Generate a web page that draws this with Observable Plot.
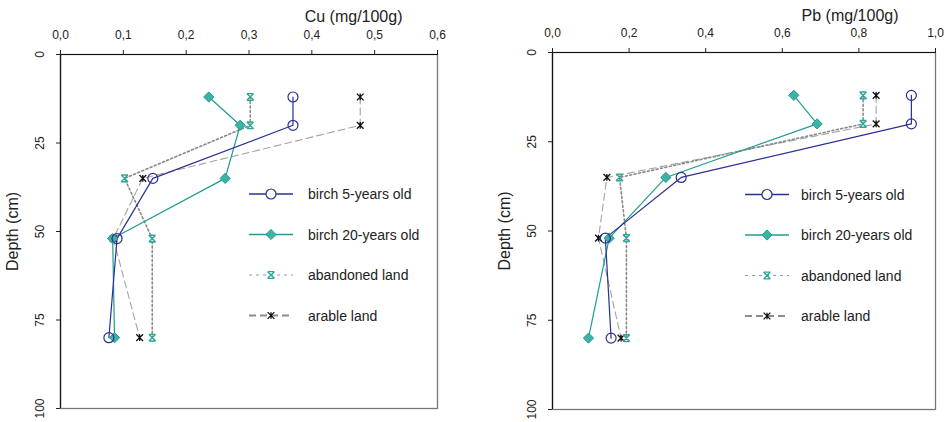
<!DOCTYPE html>
<html><head><meta charset="utf-8">
<script src="https://cdn.jsdelivr.net/npm/d3@7"></script>
<script src="https://cdn.jsdelivr.net/npm/@observablehq/plot@0.6"></script>
<style>
html,body{margin:0;padding:0;background:#fff;}
#wrap{position:relative;width:949px;height:422px;font-family:"Liberation Sans",Arial,sans-serif;overflow:hidden;}
.panel{position:absolute;top:0;}
#legend{position:absolute;left:0;top:0;}
</style></head><body><div id="wrap"></div>
<script>
// ---- data ----
const depths = [12, 20, 35, 52, 80];
const seriesNames = ["birch 5-years old", "birch 20-years old", "abandoned land", "arable land"];
const cuBirch5    = [0.370, 0.370, 0.147, 0.090, 0.077];
const cuBirch20   = [0.236, 0.286, 0.262, 0.083, 0.086];
const cuAbandoned = [0.302, 0.302, 0.102, 0.146, 0.146];
const cuArable    = [0.477, 0.477, 0.131, 0.084, 0.126];
const pbBirch5    = [0.937, 0.937, 0.336, 0.138, 0.153];
const pbBirch20   = [0.630, 0.691, 0.296, 0.148, 0.094];
const pbAbandoned = [0.811, 0.811, 0.175, 0.193, 0.193];
const pbArable    = [0.845, 0.845, 0.142, 0.120, 0.179];
const cuTicks = [0, 0.1, 0.2, 0.3, 0.4, 0.5, 0.6];
const pbTicks = [0, 0.2, 0.4, 0.6, 0.8, 1.0];
const depthTicks = [0, 25, 50, 75, 100];
const cuLabel = "Cu (mg/100g)";
const pbLabel = "Pb (mg/100g)";
const depthLabel = "Depth (cm)";

// ---- styles ----
const FONT = '"Liberation Sans", Arial, sans-serif';
const starSym = {draw(ctx, size) {
  const r = Math.sqrt(size) / 2;
  ctx.moveTo(-r, -r); ctx.lineTo(r, r);
  ctx.moveTo(-r, r); ctx.lineTo(r, -r);
  ctx.moveTo(0, -r); ctx.lineTo(0, r);
}};
const barXSym = {draw(ctx, size) {
  const r = Math.sqrt(size) / 2;
  ctx.moveTo(-r, -r); ctx.lineTo(r, r);
  ctx.moveTo(-r, r); ctx.lineTo(r, -r);
  ctx.moveTo(-r, -r); ctx.lineTo(r, -r);
  ctx.moveTo(-r, r); ctx.lineTo(r, r);
}};
const diamondSym = d3.symbolDiamond2 || "diamond";
const styles = {
  "birch 5-years old":  {line: "#2b2f95", w: 1.2, dash: null, legW: 1.3, legDash: null, legLine: "#2b2f95",
                          sym: "circle", r: 5, fill: "none", mstroke: "#2b2f95", mw: 1.2},
  "birch 20-years old": {line: "#1f9d8e", w: 1.2, dash: null, legW: 1.3, legDash: null, legLine: "#1f9d8e",
                          sym: diamondSym, r: 4.6, fill: "#3db3a6", mstroke: "#1f9d8e", mw: 1},
  "abandoned land":     {line: "#8a8a8a", w: 1.6, dash: "2,2.5", legW: 1.2, legDash: "3,4", legLine: "#9a9a9a",
                          sym: barXSym, r: 3.8, fill: "none", mstroke: "#2aa89a", mw: 1.4},
  "arable land":        {line: "#a3a3a3", w: 1.1, dash: "7,4", legW: 2, legDash: "7,4", legLine: "#8c8c8c",
                          sym: starSym, r: 3.8, fill: "none", mstroke: "#111", mw: 1.3}
};

function fmt(d) { return d.toFixed(1).replace(".", ","); }

function panel(cfg) {
  const rows = seriesNames.flatMap((s, i) => depths.map((d, j) => ({series: s, depth: d, value: cfg.values[i][j]})));
  const drawOrder = ["arable land", "abandoned land", "birch 20-years old", "birch 5-years old"];
  const marks = [
    Plot.frame({stroke: "#777", strokeWidth: 1.3}),
    Plot.ruleY([0], {stroke: "#111", strokeWidth: 1.2}),
    Plot.ruleX([0], {stroke: "#111", strokeWidth: 1.2}),
    Plot.axisX({anchor: "top", ticks: cfg.ticks, tickFormat: fmt, tickSize: 5, tickPadding: 11, label: null, fontSize: 12}),
    Plot.axisY({anchor: "left", ticks: depthTicks, tickFormat: d => String(d), tickSize: 4, tickPadding: 12.5, tickRotate: -90, label: null, fontSize: 12}),
    Plot.text([cfg.label], {frameAnchor: "top-right", textAnchor: "end", lineAnchor: "bottom", dx: cfg.titleDx, dy: cfg.titleDy, fontSize: 16, fill: "#222"}),
    Plot.text([depthLabel], {frameAnchor: "left", textAnchor: "middle", lineAnchor: "bottom", rotate: -90, dx: -42.5, fontSize: 16, fill: "#222"})
  ];
  for (const s of drawOrder) {
    const st = styles[s];
    marks.push(Plot.line(rows.filter(r => r.series === s), {x: "value", y: "depth", stroke: st.line, strokeWidth: st.w, strokeDasharray: st.dash || undefined}));
  }
  for (const s of drawOrder) {
    const st = styles[s];
    marks.push(Plot.dot(rows.filter(r => r.series === s), {x: "value", y: "depth", symbol: st.sym, r: st.r, fill: st.fill, stroke: st.mstroke, strokeWidth: st.mw}));
  }
  return Plot.plot({
    width: cfg.width, height: 422,
    marginLeft: cfg.ml, marginRight: cfg.mr, marginTop: cfg.mt, marginBottom: cfg.mb,
    x: {domain: cfg.domain, axis: null},
    y: {domain: [0, 100], reverse: true, axis: null},
    style: {fontFamily: FONT, fontSize: "12px", color: "#222", background: "transparent", overflow: "visible"},
    marks
  });
}

const wrap = document.getElementById("wrap");
const panels = [
  {left: 0, width: 475, ml: 60, mr: 38, mt: 54, mb: 14, domain: [0, 0.6], ticks: cuTicks, label: cuLabel,
   values: [cuBirch5, cuBirch20, cuAbandoned, cuArable], titleDx: -35, titleDy: -32.5,
   leg: {x0: 249, x1: 293, tx: 308, y0: 194, step: 40.5}},
  {left: 475, width: 474, ml: 77, mr: 14, mt: 52, mb: 13, domain: [0, 1], ticks: pbTicks, label: pbLabel,
   values: [pbBirch5, pbBirch20, pbAbandoned, pbArable], titleDx: -37, titleDy: -31.7,
   leg: {x0: 745, x1: 789, tx: 801, y0: 194.5, step: 40.5}}
];
for (const p of panels) {
  const div = document.createElement("div");
  div.className = "panel";
  div.style.left = p.left + "px";
  div.appendChild(panel(p));
  wrap.appendChild(div);
}

// ---- legends ----
const svg = d3.select(wrap).append("svg").attr("id", "legend").attr("width", 949).attr("height", 422)
  .style("font-family", FONT);
for (const p of panels) {
  const L = p.leg;
  seriesNames.forEach((s, i) => {
    const st = styles[s];
    const y = L.y0 + i * L.step;
    const g = svg.append("g");
    g.append("line").attr("x1", L.x0).attr("x2", L.x1).attr("y1", y).attr("y2", y)
      .attr("stroke", st.legLine).attr("stroke-width", st.legW).attr("stroke-dasharray", st.legDash);
    const symObj = typeof st.sym === "string" ? d3.symbolCircle : st.sym;
    g.append("path").attr("transform", `translate(${(L.x0 + L.x1) / 2},${y})`)
      .attr("d", d3.symbol(symObj, Math.PI * st.r * st.r)())
      .attr("fill", st.fill === "none" && st.sym === "circle" ? "white" : st.fill)
      .attr("stroke", st.mstroke).attr("stroke-width", st.mw);
    g.append("text").attr("x", L.tx).attr("y", y + 5).attr("font-size", 14).attr("fill", "#222").text(s);
  });
}
</script></body></html>
